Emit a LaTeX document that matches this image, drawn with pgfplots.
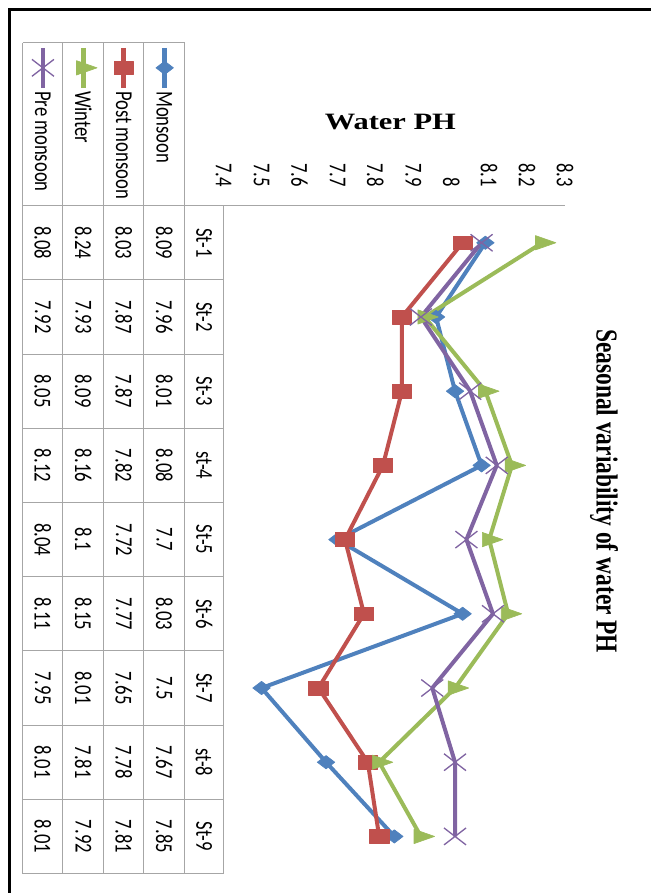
\documentclass[border=0pt]{standalone}
\usepackage{fontspec}
\setmainfont{Carlito}
\newfontfamily\tnr{Liberation Serif}
\usepackage{pgfplots}
\pgfplotsset{compat=1.18}
\usepackage{pgfplotstable}
\definecolor{cMon}{HTML}{4F81BD}
\definecolor{cPost}{HTML}{C0504D}
\definecolor{cWin}{HTML}{9BBB59}
\definecolor{cPre}{HTML}{8064A2}
\definecolor{gridc}{HTML}{A6A6A6}
\newcommand\tf{\fontsize{14}{16}\selectfont}
\newcommand\ttl{\tnr\bfseries\fontsize{17.6}{20}\selectfont}

\pgfplotstableread{
pos mon post win pre
9 8.09 8.03 8.24 8.08
8 7.96 7.87 7.93 7.92
7 8.01 7.87 8.09 8.05
6 8.08 7.82 8.16 8.12
5 7.7 7.72 8.1 8.04
4 8.03 7.77 8.15 8.11
3 7.5 7.65 8.01 7.95
2 7.67 7.78 7.81 8.01
1 7.85 7.81 7.92 8.01
}\datatable

\begin{document}
\begin{tikzpicture}
\begin{axis}[
  at={(168pt,14.25pt)}, anchor=south west,
  scale only axis, width=256.5pt, height=501.75pt,
  xmin=7.4, xmax=8.3, ymin=0.5, ymax=9.5,
  axis x line=top, axis y line=left,
  axis line style={-, draw=gridc, line width=0.75pt},
  xtick={7.4,7.5,7.6,7.7,7.8,7.9,8,8.1,8.2,8.3},
  xticklabels={7.4,7.5,7.6,7.7,7.8,7.9,8,8.1,8.2,8.3},
  xticklabel style={xscale=1.3, rotate=-90, anchor=east, inner sep=0pt, font=\tf},
  xticklabel shift=14pt,
  major tick length=0pt,
  ytick=\empty,
  clip=false,
  every axis plot/.append style={line width=3pt, line join=round},
]
\addplot[cMon, mark=diamond*, mark size=5pt, mark options={xscale=1.75, line width=0.5pt}] table[x=mon,y=pos]{\datatable};
\addplot[cPost, mark=square*, mark size=5.2pt, mark options={xscale=1.4, line width=0.5pt}] table[x=post,y=pos]{\datatable};
\addplot[cWin, mark=triangle*, mark size=6.2pt, mark options={xscale=1.65, rotate=-90, line width=0.5pt}] table[x=win,y=pos]{\datatable};
\addplot[cPre, mark=x, mark size=9pt, mark options={xscale=1.3, line width=1pt}] table[x=pre,y=pos]{\datatable};
% legend samples
\addplot[cMon, line width=3.5pt, mark=diamond*, mark indices={2}, mark size=5pt, mark options={xscale=1.75, line width=0.5pt}] coordinates {(7.2447,11.626) (7.2447,11.357) (7.2447,11.088)};
\addplot[cPost, line width=3.5pt, mark=square*, mark indices={2}, mark size=5.2pt, mark options={xscale=1.4, line width=0.5pt}] coordinates {(7.1368,11.626) (7.1368,11.357) (7.1368,11.088)};
\addplot[cWin, line width=3.5pt, mark=triangle*, mark indices={2}, mark size=6.2pt, mark options={xscale=1.65, rotate=-90, line width=0.5pt}] coordinates {(7.0303,11.626) (7.0303,11.357) (7.0303,11.088)};
\addplot[cPre, line width=3.5pt, mark=x, mark indices={2}, mark size=9pt, mark options={xscale=1.3, line width=1pt}] coordinates {(6.9237,11.626) (6.9237,11.357) (6.9237,11.088)};
\end{axis}
\begin{scope}[x=0.75pt,y=0.75pt]
\path (0,0) rectangle (652,894);
% frame
\draw[black, line width=2.25pt] (10,0) -- (10,884) -- (652,884);
% table grid
\begin{scope}[gridc, line width=0.75pt]
\foreach \xx in {23,63,104,144,185} \draw (\xx,851) -- (\xx,19);
\draw (224,688) -- (224,19);
\draw (23,851) -- (185,851);
\draw (23,688) -- (224,688);
\foreach \k in {1,...,9} {\pgfmathsetmacro\yy{688-\k*74.333}\draw (23,\yy) -- (224,\yy);}
\end{scope}
% table text
\foreach \k/\s/\a/\b/\c/\d in {1/St-1/8.09/8.03/8.24/8.08, 2/St-2/7.96/7.87/7.93/7.92, 3/St-3/8.01/7.87/8.09/8.05, 4/st-4/8.08/7.82/8.16/8.12, 5/St-5/7.7/7.72/8.1/8.04, 6/St-6/8.03/7.77/8.15/8.11, 7/St-7/7.5/7.65/8.01/7.95, 8/st-8/7.67/7.78/7.81/8.01, 9/St-9/7.85/7.81/7.92/8.01} {
  \pgfmathsetmacro\yy{688-(\k-0.5)*74.333}
  \node[xscale=1.3, rotate=-90, inner sep=0pt, font=\tf] at (204.5,\yy) {\s};
  \node[xscale=1.3, rotate=-90, inner sep=0pt, font=\tf] at (164.5,\yy) {\a};
  \node[xscale=1.3, rotate=-90, inner sep=0pt, font=\tf] at (124,\yy) {\b};
  \node[xscale=1.3, rotate=-90, inner sep=0pt, font=\tf] at (83.5,\yy) {\c};
  \node[xscale=1.3, rotate=-90, inner sep=0pt, font=\tf] at (43,\yy) {\d};
}
% legend text
\node[xscale=1.3, rotate=-90, anchor=west, inner sep=0pt, font=\tf] at (164.5,803) {Monsoon};
\node[xscale=1.3, rotate=-90, anchor=west, inner sep=0pt, font=\tf] at (124,803) {Post monsoon};
\node[xscale=1.3, rotate=-90, anchor=west, inner sep=0pt, font=\tf] at (83.5,803) {Winter};
\node[xscale=1.3, rotate=-90, anchor=west, inner sep=0pt, font=\tf] at (43,803) {Pre monsoon};
% titles
\node[xscale=1.3, inner sep=0pt, font=\ttl] at (391,772) {Water PH};
\node[xscale=1.3, rotate=-90, inner sep=0pt, font=\ttl] at (605,402) {Seasonal variability of water PH};
\end{scope}
\end{tikzpicture}
\end{document}
